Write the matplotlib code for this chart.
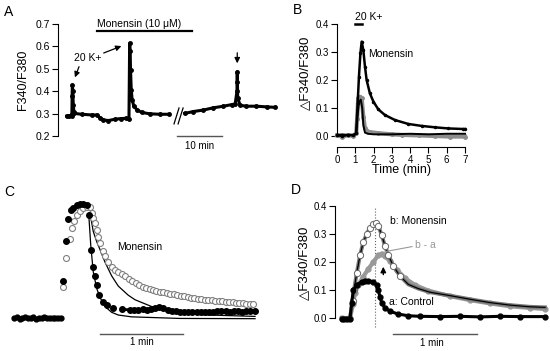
import matplotlib
matplotlib.use('Agg')
import matplotlib.pyplot as plt

plt.rcParams['font.family'] = ['Liberation Sans', 'DejaVu Sans']

# ---- panel A : ratio trace (minutes), two segments around the break
a1_t = [0.0, 0.5, 1.1, 1.15, 1.2, 1.25, 1.35, 1.45, 1.6, 1.68, 3.3, 5.5, 6.6, 7.35, 8.1, 9.2, 10.7,
        12.1, 13.2, 13.75, 13.9, 14.0, 14.1, 14.25, 14.45, 14.8, 15.5, 16.6, 18.4, 20.6, 22.6]
a1_v = [0.289, 0.291, 0.289, 0.30, 0.38, 0.428, 0.40, 0.34, 0.305, 0.301, 0.297, 0.294, 0.294, 0.282,
        0.272, 0.269, 0.275, 0.278, 0.279, 0.275, 0.614, 0.58, 0.495, 0.406, 0.362, 0.335, 0.317,
        0.305, 0.299, 0.297, 0.297]
a2_t = [26.1, 27.9, 30.2, 32.4, 34.6, 36.4, 37.2, 37.6, 37.66, 37.7, 37.75, 38.3, 39.7, 41.9, 44.2, 46.0]
a2_v = [0.301, 0.309, 0.316, 0.326, 0.333, 0.34, 0.343, 0.40, 0.487, 0.44, 0.37, 0.337, 0.333,
        0.333, 0.33, 0.328]
a_yticks = [0.2, 0.3, 0.4, 0.5, 0.6, 0.7]

# ---- panel B : delta ratio vs time (min)
b_mon_t = [0, 0.3, 0.6, 0.9, 1.05, 1.13, 1.2, 1.28, 1.35, 1.44, 1.53, 1.62, 1.8, 1.99, 2.26, 2.62,
           3.17, 3.9, 4.63, 5.36, 6.08, 6.9, 7.0]
b_mon_v = [0.003, 0.0, 0.004, 0.002, 0.01, 0.117, 0.212, 0.295, 0.337, 0.307, 0.248, 0.2, 0.152,
           0.123, 0.095, 0.075, 0.057, 0.043, 0.036, 0.031, 0.027, 0.025, 0.025]
b_grey_t = [0, 0.3, 0.6, 0.9, 1.05, 1.1, 1.16, 1.26, 1.35, 1.44, 1.53, 1.71, 2.26, 3.0, 3.54, 4.5,
            5.36, 6.2, 7.0]
b_grey_v = [0.002, -0.002, 0.003, 0.0, 0.01, 0.06, 0.135, 0.14, 0.135, 0.069, 0.027, 0.015, 0.01,
            0.006, 0.004, 0.002, 0.0, -0.002, -0.002]
b_ctl_t = [0, 0.3, 0.6, 0.9, 1.05, 1.12, 1.2, 1.3, 1.38, 1.44, 1.53, 1.7, 2.0, 3.0, 4.0, 5.0, 6.0, 7.0]
b_ctl_v = [0.004, 0.006, 0.003, 0.005, 0.008, 0.07, 0.12, 0.13, 0.1, 0.04, 0.012, 0.008, 0.006,
           0.006, 0.008, 0.006, 0.008, 0.008]
b_xticks = [0, 1, 2, 3, 4, 5, 6, 7]
b_yticks = [0.0, 0.1, 0.2, 0.3, 0.4]

# ---- panel C : normalised responses (s)
c_base_t = [0, 2, 4, 6, 8, 10, 12, 14, 16, 18, 20, 22, 24, 26, 28, 30, 32, 34]
c_base_v = [0.0, 0.005, -0.005, 0.0, 0.008, -0.003, 0.0, 0.005, -0.006, 0.002, 0.0, 0.006, -0.004,
            0.0, 0.004, -0.002, 0.003, 0.0]
c_ctl_t = [35.6, 37.4, 39.3, 41.2, 42.9, 45.3, 47.7, 50.1, 52.6, 54.4, 55.5, 56.9, 58.6, 59.8, 61.7,
           64.1, 67.0, 71.8, 77.9, 84, 87, 90, 93, 96, 99, 102, 105, 108, 111, 114, 117, 120, 123,
           126, 129, 132, 135, 138, 141, 144, 147, 150, 153, 156, 159, 162, 165, 168, 171, 174]
c_ctl_v = [0.325, 0.675, 0.866, 0.947, 0.968, 0.991, 0.997, 0.997, 0.991, 0.904, 0.596, 0.45, 0.371,
           0.289, 0.202, 0.143, 0.114, 0.09, 0.075, 0.072, 0.072, 0.068, 0.075, 0.07, 0.078, 0.09,
           0.095, 0.085, 0.07, 0.062, 0.058, 0.055, 0.056, 0.052, 0.055, 0.05, 0.052, 0.055, 0.05,
           0.055, 0.06, 0.065, 0.06, 0.055, 0.058, 0.06, 0.056, 0.058, 0.062, 0.06]
c_mon_t = [35.6, 37.6, 40.5, 42.2, 43.6, 45.8, 47.7, 50.1, 52.6, 55.0, 56.3, 57.4, 58.6, 59.8, 61.0,
           62.2, 64.1, 65.8, 68.2, 70.6, 73.0, 75.5, 78, 80.5, 83, 85.5, 88, 90.5, 93, 95.5, 98,
           100.5, 103, 105.5, 108, 110.5, 113, 115.5, 118, 120.5, 123, 125.5, 128, 130.5, 133,
           135.5, 138, 140.5, 143, 145.5, 148, 150.5, 153, 155.5, 158, 160.5, 163, 165.5, 168,
           170.5, 173]
c_mon_v = [0.275, 0.529, 0.693, 0.792, 0.851, 0.904, 0.939, 0.962, 0.976, 0.976, 0.92, 0.875, 0.83,
           0.77, 0.71, 0.655, 0.59, 0.54, 0.49, 0.45, 0.425, 0.405, 0.385, 0.365, 0.345, 0.325,
           0.305, 0.288, 0.275, 0.262, 0.252, 0.243, 0.237, 0.231, 0.225, 0.22, 0.214, 0.208, 0.202,
           0.196, 0.189, 0.184, 0.179, 0.174, 0.169, 0.165, 0.161, 0.157, 0.154, 0.151, 0.148,
           0.145, 0.142, 0.139, 0.136, 0.133, 0.131, 0.129, 0.127, 0.125, 0.123]
c_fit1_t = [54.0, 55.5, 57.3, 59.8, 62.2, 65.8, 70.6, 75.4, 85, 120, 174.3]
c_fit1_v = [0.918, 0.64, 0.406, 0.26, 0.18, 0.1, 0.05, 0.026, 0.01, -0.004, -0.006]
c_fit2_t = [55.0, 57.3, 59.8, 62.2, 65.8, 70.6, 75.4, 82.6, 87.5, 99.6, 111.6, 135.7, 174.3]
c_fit2_v = [0.918, 0.76, 0.67, 0.6, 0.49, 0.37, 0.28, 0.2, 0.16, 0.1, 0.06, 0.028, 0.014]

# ---- panel D : delta ratio (s)
d_b_t = [4.8, 6.8, 8.9, 10.7, 12.5, 13.6, 15.5, 17.9, 20.2, 22.6, 25.0, 27.4, 29.1, 30.9, 33.4, 35.7,
         38.1, 41.6, 46.4, 52.4, 59.5, 67.9, 82.1, 96.4, 110.7, 125, 139.3, 150]
d_b_v = [0.0, -0.002, 0.0, 0.0, 0.06, 0.10, 0.16, 0.225, 0.27, 0.30, 0.322, 0.336, 0.34, 0.33, 0.295,
         0.258, 0.225, 0.186, 0.15, 0.12, 0.105, 0.092, 0.08, 0.067, 0.055, 0.046, 0.04, 0.038]
d_ba_t = [4.8, 10.7, 12.9, 14.3, 16.6, 20.2, 23.8, 27.4, 30.9, 33.4, 35.7, 39.3, 44.1, 50.0, 57.1,
          66.6, 82.1, 96.4, 110.7, 125, 139.3, 150]
d_ba_v = [0.0, 0.0, 0.05, 0.09, 0.118, 0.148, 0.175, 0.2, 0.224, 0.23, 0.221, 0.202, 0.173, 0.142,
          0.118, 0.098, 0.078, 0.064, 0.052, 0.042, 0.036, 0.032]
d_a_t = [4.8, 6.4, 8.6, 10.7, 11.9, 13.1, 15.5, 19.1, 21.4, 23.8, 27.4, 29.8, 30.9, 32.1, 33.4, 35.7,
         39.3, 45.2, 52.4, 60.7, 75, 89.3, 103.6, 117.9, 132.1, 150]
d_a_v = [-0.004, -0.005, -0.004, -0.003, 0.054, 0.1, 0.118, 0.13, 0.133, 0.133, 0.13, 0.118, 0.1,
         0.076, 0.054, 0.036, 0.024, 0.014, 0.008, 0.006, 0.005, 0.006, 0.004, 0.006, 0.005, 0.005]
d_yticks = [0.0, 0.1, 0.2, 0.3, 0.4]

W, H = 550, 351
fig = plt.figure(figsize=(5.5, 3.51), dpi=100)


def box(x0, y0, x1, y1):
    # pixel box -> figure fraction
    return [x0 / W, 1 - y1 / H, (x1 - x0) / W, (y1 - y0) / H]


def ftext(x, y, s, **kw):
    fig.text(x / W, 1 - y / H, s, **kw)


ftext(9, 12, 'A', fontsize=10, ha='center', va='center')
ftext(297, 10, 'B', fontsize=10, ha='center', va='center')
ftext(9, 192, 'C', fontsize=10, ha='center', va='center')
ftext(296, 190, 'D', fontsize=10, ha='center', va='center')

# ---------------- A
ax = fig.add_axes(box(58, 24, 280, 136))
ax.set_xlim(-1.92, 47.1)
ax.set_ylim(0.2, 0.7)
for s in ['top', 'right', 'bottom']:
    ax.spines[s].set_visible(False)
ax.set_xticks([])
ax.set_yticks(a_yticks)
ax.set_yticklabels(['%.1f' % v for v in a_yticks])
ax.tick_params(axis='y', length=4, width=0.8, labelsize=7.5, pad=2)
ax.plot(a1_t, a1_v, color='black', lw=2.2, marker='o', ms=2.5, clip_on=False)
ax.plot(a2_t, a2_v, color='black', lw=2.2, marker='o', ms=2.5, clip_on=False)
ax.plot([6.7, 27.7], [0.669, 0.669], color='black', lw=1.6, clip_on=False)
ax.text(6.7, 0.7, 'Monensin (10 μM)', fontsize=7.5, ha='left', va='center')
ax.text(1.6, 0.548, '20 K+', fontsize=7.5, ha='left', va='center')
ax.annotate('', xy=(1.6, 0.45), xytext=(2.94, 0.521),
            arrowprops=dict(arrowstyle='-|>', color='black', lw=0.9, mutation_scale=8))
ax.annotate('', xy=(12.65, 0.606), xytext=(7.6, 0.566),
            arrowprops=dict(arrowstyle='-|>', color='black', lw=0.9, mutation_scale=8))
ax.annotate('', xy=(37.66, 0.512), xytext=(37.66, 0.584),
            arrowprops=dict(arrowstyle='-|>', color='black', lw=0.9, mutation_scale=8))
ax.plot([23.7, 24.8], [0.254, 0.325], color='black', lw=0.9, clip_on=False)
ax.plot([24.6, 25.7], [0.254, 0.325], color='black', lw=0.9, clip_on=False)
ax.plot([24.4, 34.4], [0.2, 0.2], color='#555555', lw=1.0, clip_on=False)
ax.text(29.4, 0.155, '10 min', fontsize=7, ha='center', va='center')
ftext(23, 80, 'F340/F380', fontsize=9, rotation=90, ha='center', va='center')

# ---------------- B
ax = fig.add_axes(box(337, 24, 465, 136))
ax.set_xlim(0, 7)
ax.set_ylim(0, 0.4)
for s in ['top', 'right']:
    ax.spines[s].set_visible(False)
ax.spines['bottom'].set_position(('outward', 8))
ax.set_xticks(b_xticks)
ax.set_yticks(b_yticks)
ax.set_yticklabels(['%.1f' % v for v in b_yticks])
ax.tick_params(length=4, width=0.8, labelsize=7, pad=2)
ax.plot(b_grey_t, b_grey_v, color='#8c8c8c', lw=3, marker='o', ms=2.5, clip_on=False)
ax.plot(b_ctl_t, b_ctl_v, color='black', lw=1.4, clip_on=False)
ax.plot(b_mon_t, b_mon_v, color='black', lw=1.8, marker='o', ms=1.5, clip_on=False)
ax.plot([1.0, 1.35], [0.4, 0.4], color='black', lw=1.8, clip_on=False)
ax.text(0.98, 0.425, '20 K+', fontsize=7.5, ha='left', va='center')
ax.text(1.7, 0.293, 'Monensin', fontsize=7.5, ha='left', va='center')
ftext(401, 170, 'Time (min)', fontsize=9, ha='center', va='center')
ftext(305, 73, '△F340/F380', fontsize=9.5, rotation=90, ha='center', va='center')

# ---------------- C
ax = fig.add_axes(box(5, 195, 265, 345))
ax.set_xlim(-6.5, 181.5)
ax.set_ylim(-0.237, 1.079)
ax.axis('off')
ax.plot(c_fit1_t, c_fit1_v, color='black', lw=0.9)
ax.plot(c_fit2_t, c_fit2_v, color='black', lw=0.9)
ax.plot(c_base_t, c_base_v, color='black', lw=2, marker='o', ms=3.5)
ax.plot(c_mon_t, c_mon_v, ls='none', marker='o', ms=4.3, mfc='white', mec='#808080', mew=0.8)
ax.plot(c_ctl_t[18:], c_ctl_v[18:], color='black', lw=2)
ax.plot(c_ctl_t, c_ctl_v, ls='none', marker='o', ms=4, color='black')
ax.plot([62.2, 122.2], [-0.14, -0.14], color='#555555', lw=1.0)
ax.text(92.2, -0.21, '1 min', fontsize=7, ha='center', va='center')
ax.text(74.5, 0.62, 'Monensin', fontsize=7.5, ha='left', va='center')

# ---------------- D
ax = fig.add_axes(box(335, 206, 545, 318))
ax.set_xlim(0, 150)
ax.set_ylim(0, 0.4)
for s in ['top', 'right', 'bottom']:
    ax.spines[s].set_visible(False)
ax.set_xticks([])
ax.set_yticks(d_yticks)
ax.set_yticklabels(['%.1f' % v for v in d_yticks])
ax.tick_params(axis='y', length=4, width=0.8, labelsize=7, pad=2)
ax.plot([28.6, 28.6], [-0.032, 0.396], color='#666666', lw=0.8, ls=':', clip_on=False)
ax.plot(d_ba_t, d_ba_v, color='#999999', lw=3, marker='o', ms=3.5, clip_on=False)
ax.plot(d_b_t, d_b_v, color='#7a7a7a', lw=2.8, clip_on=False)
ax.plot(d_b_t, d_b_v, color='black', lw=0.9, marker='o', ms=4.5, mfc='white', mec='#666666',
        mew=0.7, markevery=list(range(4, 19)), clip_on=False)
ax.plot(d_a_t, d_a_v, color='black', lw=2.2, marker='o', ms=3.5, clip_on=False)
ax.text(39.3, 0.347, 'b: Monensin', fontsize=7.5, ha='left', va='center')
ax.text(57.1, 0.26, 'b - a', fontsize=7.5, color='#999999', ha='left', va='center')
ax.plot([35.7, 55], [0.237, 0.255], color='#999999', lw=0.8)
ax.text(38.8, 0.058, 'a: Control', fontsize=7.5, ha='left', va='center')
ax.annotate('', xy=(34.5, 0.193), xytext=(34.5, 0.145),
            arrowprops=dict(arrowstyle='-|>', color='black', lw=1.0, mutation_scale=8))
ax.plot([41.4, 101.4], [-0.057, -0.057], color='#555555', lw=1.0, clip_on=False)
ax.text(69.3, -0.089, '1 min', fontsize=7, ha='center', va='center')
ftext(304, 263, '△F340/F380', fontsize=9.5, rotation=90, ha='center', va='center')

fig.savefig('out.png', dpi=100)
